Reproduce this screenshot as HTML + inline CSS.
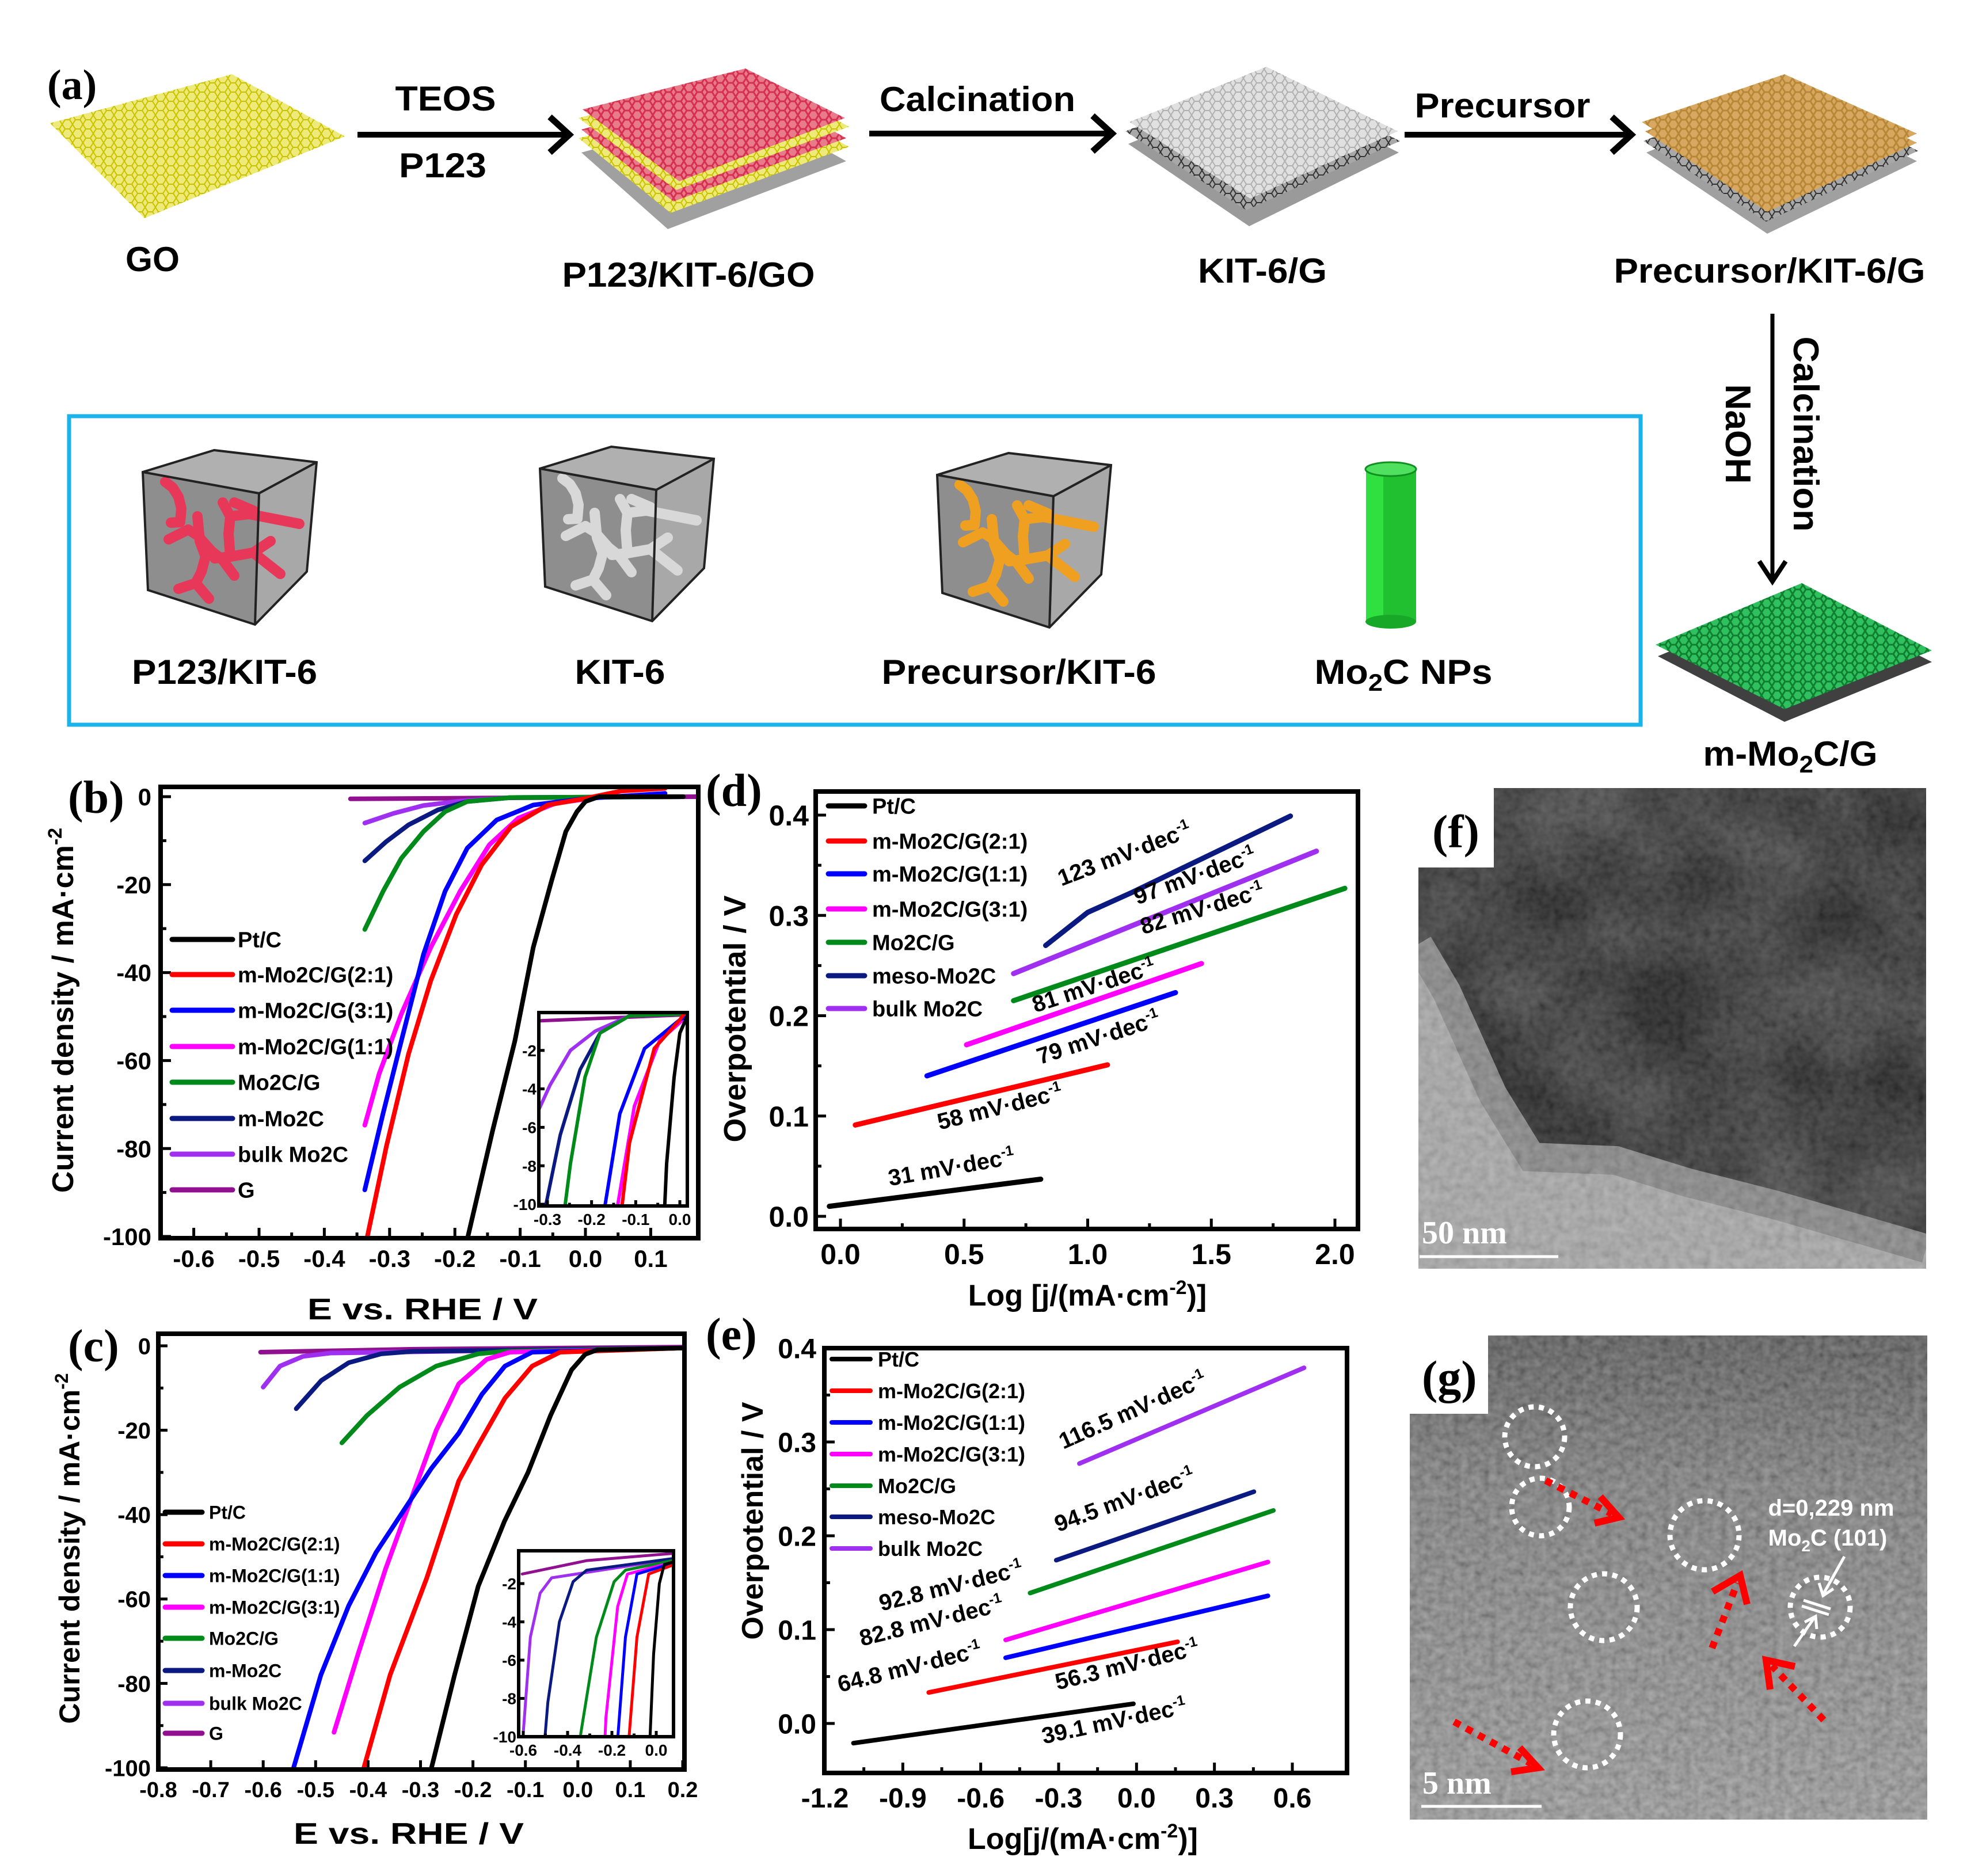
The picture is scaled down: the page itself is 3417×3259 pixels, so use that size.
<!DOCTYPE html>
<html><head><meta charset="utf-8">
<style>
html,body{margin:0;padding:0;background:#fff;width:3417px;height:3259px;overflow:hidden;}
svg{display:block;}
text{font-family:"Liberation Sans",Arial,sans-serif;font-weight:bold;}
.lbl{font-family:"Liberation Serif",serif;font-weight:bold;}
</style></head>
<body>
<svg id="fig" xmlns="http://www.w3.org/2000/svg" width="3417" height="3259" viewBox="0 0 3417 3259">
<defs>
<pattern id="hexY" width="18" height="16" patternUnits="userSpaceOnUse"><rect width="18" height="16" fill="#eeea7a"/><path d="M0 8 L5 0 L13 0 L18 8 L13 16 L5 16Z" fill="none" stroke="#c9c200" stroke-width="2"/></pattern>
<pattern id="hexP" width="18" height="16" patternUnits="userSpaceOnUse"><rect width="18" height="16" fill="#e87a8a"/><path d="M0 8 L5 0 L13 0 L18 8 L13 16 L5 16Z" fill="none" stroke="#d63050" stroke-width="3"/></pattern>
<pattern id="hexW" width="18" height="16" patternUnits="userSpaceOnUse"><rect width="18" height="16" fill="#e0e0e0"/><path d="M0 8 L5 0 L13 0 L18 8 L13 16 L5 16Z" fill="none" stroke="#b0b0b0" stroke-width="2"/></pattern>
<pattern id="hexO" width="18" height="16" patternUnits="userSpaceOnUse"><rect width="18" height="16" fill="#d8a860"/><path d="M0 8 L5 0 L13 0 L18 8 L13 16 L5 16Z" fill="none" stroke="#b88838" stroke-width="3"/></pattern>
<pattern id="hexG" width="18" height="16" patternUnits="userSpaceOnUse"><rect width="18" height="16" fill="#30c060"/><path d="M0 8 L5 0 L13 0 L18 8 L13 16 L5 16Z" fill="none" stroke="#108030" stroke-width="3"/></pattern>
<pattern id="hexK" width="18" height="16" patternUnits="userSpaceOnUse"><rect width="18" height="16" fill="#a8a8a8"/><path d="M0 8 L5 0 L13 0 L18 8 L13 16 L5 16Z" fill="none" stroke="#333" stroke-width="2"/></pattern>
<filter id="noise" x="0" y="0" width="100%" height="100%"><feTurbulence type="fractalNoise" baseFrequency="0.08" numOctaves="2" seed="3"/><feColorMatrix type="saturate" values="0"/><feComponentTransfer><feFuncA type="linear" slope="0" intercept="0.45"/></feComponentTransfer><feComposite in2="SourceGraphic" operator="in"/></filter>
<filter id="noiseF" x="0" y="0" width="100%" height="100%"><feTurbulence type="fractalNoise" baseFrequency="0.07" numOctaves="2" seed="5"/><feColorMatrix type="saturate" values="0"/><feComponentTransfer><feFuncA type="linear" slope="0" intercept="0.3"/></feComponentTransfer><feComposite in2="SourceGraphic" operator="in"/></filter>
<filter id="blob" x="0" y="0" width="100%" height="100%"><feTurbulence type="fractalNoise" baseFrequency="0.006" numOctaves="2" seed="7"/><feColorMatrix type="matrix" values="0 0 0 0 0  0 0 0 0 0  0 0 0 0 0  2 0 0 0 -0.5"/><feComposite in2="SourceGraphic" operator="in"/></filter>
<clipPath id="clipB"><rect x="279" y="1367" width="934" height="784"/></clipPath>
<clipPath id="clipBi"><rect x="936" y="1759" width="258" height="336"/></clipPath>
<clipPath id="clipC"><rect x="275" y="2317" width="914" height="757"/></clipPath>
<clipPath id="clipCi"><rect x="901" y="2694" width="269" height="323"/></clipPath>
<clipPath id="clipF"><path d="M2595 1369 H3346 V2204 H2464 V1507 H2595Z"/></clipPath>
<clipPath id="clipG"><path d="M2585 2320 H3348 V3161 H2449 V2456 H2585Z"/></clipPath>
</defs>

<!-- ===== Panel a ===== -->
<g>
<text class="lbl" x="82" y="172" font-size="74">(a)</text>
<polygon points="87,214 403,129 599,237 251,379" fill="url(#hexY)"/>
<text x="265" y="471" font-size="60" text-anchor="middle" textLength="94" lengthAdjust="spacingAndGlyphs">GO</text>
<g><line x1="621" y1="234" x2="985" y2="234" stroke="#000" stroke-width="10"/><polyline points="955,203 989,234 955,265" fill="none" stroke="#000" stroke-width="11"/></g>
<text x="774" y="192" font-size="60" text-anchor="middle" textLength="175" lengthAdjust="spacingAndGlyphs">TEOS</text>
<text x="769" y="308" font-size="60" text-anchor="middle" textLength="152" lengthAdjust="spacingAndGlyphs">P123</text>
<g>
<polygon points="1010,265 1300,185 1470,280 1160,398" fill="#a0a0a0"/>
<polygon points="1005,240 1300,160 1475,255 1165,370" fill="url(#hexY)"/>
<polygon points="1010,225 1300,145 1470,240 1170,350" fill="url(#hexP)"/>
<polygon points="1005,205 1300,125 1475,220 1175,330" fill="url(#hexY)"/>
<polygon points="1012,190 1295,119 1468,205 1180,315" fill="url(#hexP)"/>
</g>
<text x="1196" y="498" font-size="60" text-anchor="middle" textLength="439" lengthAdjust="spacingAndGlyphs">P123/KIT-6/GO</text>
<g><line x1="1510" y1="232" x2="1925" y2="232" stroke="#000" stroke-width="10"/><polyline points="1898,201 1932,232 1898,263" fill="none" stroke="#000" stroke-width="11"/></g>
<text x="1698" y="193" font-size="60" text-anchor="middle" textLength="340" lengthAdjust="spacingAndGlyphs">Calcination</text>
<g>
<polygon points="1960,250 2200,150 2430,265 2170,393" fill="#9a9a9a"/>
<polygon points="1955,228 2200,130 2432,245 2165,365" fill="url(#hexK)"/>
<polygon points="1962,212 2200,116 2428,228 2172,345" fill="url(#hexW)"/>
</g>
<text x="2193" y="491" font-size="60" text-anchor="middle" textLength="224" lengthAdjust="spacingAndGlyphs">KIT-6/G</text>
<g><line x1="2440" y1="234" x2="2830" y2="234" stroke="#000" stroke-width="10"/><polyline points="2800,203 2834,234 2800,265" fill="none" stroke="#000" stroke-width="11"/></g>
<text x="2610" y="204" font-size="60" text-anchor="middle" textLength="305" lengthAdjust="spacingAndGlyphs">Precursor</text>
<g>
<polygon points="2860,265 3100,165 3330,280 3070,406" fill="#a0a0a0"/>
<polygon points="2855,245 3100,148 3332,262 3068,385" fill="url(#hexK)"/>
<polygon points="2858,228 3100,138 3330,248 3070,368" fill="url(#hexO)"/>
<polygon points="2852,212 3100,129 3330,232 3072,350" fill="url(#hexO)"/>
</g>
<text x="3074" y="491" font-size="60" text-anchor="middle" textLength="541" lengthAdjust="spacingAndGlyphs">Precursor/KIT-6/G</text>
<g><line x1="3079" y1="545" x2="3079" y2="1005" stroke="#000" stroke-width="7"/><polyline points="3056,975 3079,1010 3102,975" fill="none" stroke="#000" stroke-width="8"/></g>
<text transform="translate(3116,754) rotate(90)" font-size="62" text-anchor="middle" textLength="339" lengthAdjust="spacingAndGlyphs">Calcination</text>
<text transform="translate(2998,754) rotate(90)" font-size="62" text-anchor="middle" textLength="173" lengthAdjust="spacingAndGlyphs">NaOH</text>
<g>
<polygon points="2880,1140 3130,1035 3356,1150 3100,1254" fill="#404040"/>
<polygon points="2876,1120 3130,1013 3356,1130 3100,1232" fill="url(#hexG)"/>
</g>
<text x="3110" y="1330" font-size="60" text-anchor="middle" textLength="303" lengthAdjust="spacingAndGlyphs">m-Mo<tspan font-size="42" dy="12">2</tspan><tspan dy="-12">C/G</tspan></text>
<rect x="120" y="723" width="2730" height="536" fill="none" stroke="#1ab4ea" stroke-width="7"/>
<g id="cubes"></g>
<g>
<rect x="2373" y="815" width="87" height="265" fill="#20c030"/>
<rect x="2373" y="815" width="30" height="265" fill="#30e040"/>
<ellipse cx="2416" cy="1080" rx="44" ry="12" fill="#18a828"/>
<ellipse cx="2416" cy="815" rx="44" ry="12" fill="#50e060" stroke="#109020" stroke-width="3"/>
</g>
<text x="390" y="1188" font-size="60" text-anchor="middle" textLength="322" lengthAdjust="spacingAndGlyphs">P123/KIT-6</text>
<text x="1077" y="1188" font-size="60" text-anchor="middle" textLength="157" lengthAdjust="spacingAndGlyphs">KIT-6</text>
<text x="1770" y="1188" font-size="60" text-anchor="middle" textLength="477" lengthAdjust="spacingAndGlyphs">Precursor/KIT-6</text>
<text x="2438" y="1188" font-size="60" text-anchor="middle" textLength="309" lengthAdjust="spacingAndGlyphs">Mo<tspan font-size="42" dy="12">2</tspan><tspan dy="-12">C NPs</tspan></text>
</g>

<!-- ===== Panel f ===== -->
<g>
<g clip-path="url(#clipF)">
<rect x="2464" y="1369" width="882" height="835" fill="#303030"/>
<rect x="2464" y="1369" width="882" height="835" fill="#0a0a0a" filter="url(#blob)"/>
<path d="M2464 1640 L2513 1723 L2593 1901 L2660 2010 L2807 2016 L2930 2054 L3083 2093 L3236 2137 L3346 2169 V2204 H2464Z" fill="#a0a0a0"/>
<path d="M2464 1640 L2513 1723 L2593 1901 L2660 2010 L2807 2016 L2930 2054 L3083 2093 L3236 2137 L3346 2169" fill="none" stroke="#7a7a7a" stroke-width="50"/>
<rect x="2464" y="1369" width="882" height="835" fill="#fff" filter="url(#noiseF)"/>
</g>
<text class="lbl" x="2488" y="1472" font-size="82">(f)</text>
<text class="lbl" x="2470" y="2160" font-size="56" fill="#fff">50 nm</text>
<line x1="2466" y1="2183" x2="2707" y2="2183" stroke="#fff" stroke-width="5"/>
</g>

<!-- ===== Panel g ===== -->
<g>
<defs><linearGradient id="gGrad" x1="0" y1="0" x2="0" y2="1"><stop offset="0" stop-color="#2a2a2a"/><stop offset="0.3" stop-color="#5e5e5e"/><stop offset="1" stop-color="#858585"/></linearGradient></defs>
<g clip-path="url(#clipG)">
<rect x="2449" y="2320" width="899" height="841" fill="url(#gGrad)"/>
<rect x="2449" y="2320" width="899" height="841" fill="#fff" filter="url(#noise)"/>
</g>
<text class="lbl" x="2470" y="2420" font-size="82">(g)</text>
<g fill="none" stroke="#fff" stroke-width="9" stroke-dasharray="9 9">
<circle cx="2666" cy="2496" r="52"/>
<circle cx="2676" cy="2618" r="50"/>
<circle cx="2961" cy="2667" r="60"/>
<circle cx="2786" cy="2792" r="58"/>
<circle cx="3162" cy="2792" r="52"/>
<circle cx="2757" cy="3013" r="58"/>
</g>
<g stroke="#ff0000" stroke-width="12" fill="none">
<line x1="2685" y1="2572" x2="2800" y2="2630" stroke-dasharray="12 12"/>
<polyline points="2780,2600 2812,2636 2770,2646"/>
<line x1="2974" y1="2863" x2="3018" y2="2750" stroke-dasharray="12 12"/>
<polyline points="2975,2765 3023,2737 3035,2787"/>
<line x1="3168" y1="2988" x2="3078" y2="2894" stroke-dasharray="12 12"/>
<polyline points="3075,2935 3068,2884 3118,2895"/>
<line x1="2526" y1="2991" x2="2660" y2="3064" stroke-dasharray="12 12"/>
<polyline points="2640,3036 2672,3071 2625,3078"/>
</g>
<g stroke="#fff" stroke-width="5" fill="none">
<line x1="3204" y1="2704" x2="3167" y2="2770"/><polyline points="3160,2750 3167,2772 3185,2760"/>
<line x1="3117" y1="2860" x2="3152" y2="2810"/><polyline points="3135,2818 3154,2808 3156,2830"/>
<line x1="3133" y1="2780" x2="3180" y2="2795"/><line x1="3130" y1="2790" x2="3177" y2="2805"/>
</g>
<text x="3181" y="2633" font-size="40" fill="#fff" text-anchor="middle" font-weight="normal">d=0,229 nm</text>
<text x="3175" y="2685" font-size="40" fill="#fff" text-anchor="middle" font-weight="normal">Mo<tspan font-size="28" dy="10">2</tspan><tspan dy="-10">C (101)</tspan></text>
<text class="lbl" x="2471" y="3116" font-size="56" fill="#fff">5 nm</text>
<line x1="2469" y1="3138" x2="2678" y2="3138" stroke="#fff" stroke-width="5"/>
</g>

<g id="plots"></g>
</svg>
<script>
// ---------- Panel b data (E vs RHE / V, j / mA cm-2) ----------
const bSeries=["Pt/C","m-Mo2C/G(2:1)","m-Mo2C/G(3:1)","m-Mo2C/G(1:1)","Mo2C/G","m-Mo2C","bulk Mo2C","G"];
const bPtE=[-0.18,-0.142,-0.108,-0.08,-0.052,-0.03,-0.013,0,0.021,0.15];
const bPtJ=[-100,-75.8,-55.5,-34.3,-19.2,-7.9,-3.4,-1.1,0,0];
const bRedE=[-0.334,-0.305,-0.271,-0.237,-0.198,-0.159,-0.114,-0.058,0,0.055,0.122];
const bRedJ=[-100,-79.6,-58.5,-41.9,-26.8,-15.5,-6.8,-1.9,-0.4,1.3,1.9];
const bBlueE=[-0.338,-0.31,-0.282,-0.248,-0.215,-0.181,-0.136,-0.08,0,0.122];
const bBlueJ=[-89.4,-72,-55.5,-35.8,-21.5,-11.7,-5.3,-1.9,-0.4,0.75];
const bMagE=[-0.338,-0.316,-0.282,-0.237,-0.192,-0.147,-0.103,-0.046,0.027,0.15];
const bMagJ=[-74.7,-63,-49.4,-34.3,-21.5,-10.9,-4.9,-1.5,0,0];
const bGrnE=[-0.338,-0.31,-0.282,-0.248,-0.215,-0.181,-0.114,0.15];
const bGrnJ=[-30.2,-21.5,-14,-7.9,-3.4,-1.1,-0.2,0];
const bNavE=[-0.338,-0.305,-0.271,-0.226,-0.181,-0.114,0.15];
const bNavJ=[-14.6,-10.2,-6.4,-3,-1.1,-0.2,0];
const bPurE=[-0.338,-0.294,-0.248,-0.192,-0.114,0.15];
const bPurJ=[-6,-3.8,-2,-1,-0.2,0];
const bGE=[-0.36,0.17];
const bGJ=[-0.5,0];
const bXTicks=[-0.6,-0.5,-0.4,-0.3,-0.2,-0.1,0.0,0.1];
const bYTicks=[0,-20,-40,-60,-80,-100];
const bInsetXTicks=[-0.3,-0.2,-0.1,0.0];
const bInsetYTicks=[-2,-4,-6,-8,-10];

// ---------- Panel c data ----------
const cSeries=["Pt/C","m-Mo2C/G(2:1)","m-Mo2C/G(1:1)","m-Mo2C/G(3:1)","Mo2C/G","m-Mo2C","bulk Mo2C","G"];
const cPtE=[-0.279,-0.235,-0.19,-0.14,-0.095,-0.052,-0.012,0.014,0.036,0.2];
const cPtJ=[-100,-78,-57,-41.6,-30,-16.5,-5.7,-2,-1,-0.5];
const cRedE=[-0.408,-0.358,-0.288,-0.227,-0.192,-0.139,-0.087,-0.034,0.2];
const cRedJ=[-100,-78,-55,-32,-24,-12.4,-4.8,-1.5,-0.5];
const cBlueE=[-0.542,-0.49,-0.437,-0.385,-0.332,-0.279,-0.227,-0.183,-0.139,-0.087,0.2];
const cBlueJ=[-100,-78,-61.6,-49,-39,-29,-20.7,-11.5,-4.8,-1.5,-0.5];
const cMagE=[-0.465,-0.419,-0.367,-0.314,-0.27,-0.227,-0.174,-0.13,0.2];
const cMagJ=[-91.6,-73,-53,-35,-20,-9,-3.2,-1.5,-0.5];
const cGrnE=[-0.45,-0.402,-0.34,-0.27,-0.19,-0.139,0.2];
const cGrnJ=[-23,-16.5,-9.8,-4.8,-1.9,-1.3,-0.5];
const cNavE=[-0.537,-0.489,-0.437,-0.375,-0.314,0.2];
const cNavJ=[-14.9,-8.2,-4,-1.9,-1.3,-0.5];
const cPurE=[-0.6,-0.568,-0.524,-0.472,0.2];
const cPurJ=[-9.8,-4.8,-2.5,-1.7,-0.5];
const cGE=[-0.605,-0.314,0.2];
const cGJ=[-1.5,-0.8,-0.3];
const cXTicks=[-0.8,-0.7,-0.6,-0.5,-0.4,-0.3,-0.2,-0.1,0.0,0.1,0.2];
const cYTicks=[0,-20,-40,-60,-80,-100];
const cInsetXTicks=[-0.6,-0.4,-0.2,0.0];
const cInsetYTicks=[-2,-4,-6,-8,-10];

// ---------- Panel d data (log j, overpotential V) ----------
const dSeries=["Pt/C","m-Mo2C/G(2:1)","m-Mo2C/G(1:1)","m-Mo2C/G(3:1)","Mo2C/G","meso-Mo2C","bulk Mo2C"];
const dPtX=[-0.045,0.81]; const dPtY=[0.010,0.037];
const dRedX=[0.06,1.08]; const dRedY=[0.091,0.151];
const dBlueX=[0.35,1.355]; const dBlueY=[0.14,0.223];
const dMagX=[0.51,1.46]; const dMagY=[0.171,0.252];
const dGrnX=[0.70,2.04]; const dGrnY=[0.215,0.327];
const dNavX=[0.83,1.0,1.18,1.82]; const dNavY=[0.270,0.303,0.323,0.399];
const dPurX=[0.70,1.925]; const dPurY=[0.242,0.364];
const dSlopes=["31","58","79","81","82","97","123"];
const dXTicks=[0.0,0.5,1.0,1.5,2.0];
const dYTicks=[0.0,0.1,0.2,0.3,0.4];

// ---------- Panel e data ----------
const eSeries=["Pt/C","m-Mo2C/G(2:1)","m-Mo2C/G(1:1)","m-Mo2C/G(3:1)","Mo2C/G","meso-Mo2C","bulk Mo2C"];
const ePtX=[-1.09,-0.012]; const ePtY=[-0.021,0.021];
const eRedX=[-0.80,0.158]; const eRedY=[0.033,0.087];
const eBlueX=[-0.504,0.506]; const eBlueY=[0.070,0.136];
const eMagX=[-0.504,0.506]; const eMagY=[0.089,0.172];
const eGrnX=[-0.41,0.527]; const eGrnY=[0.139,0.227];
const eNavX=[-0.309,0.452]; const eNavY=[0.174,0.247];
const ePurX=[-0.22,0.645]; const ePurY=[0.277,0.379];
const eSlopes=["39.1","56.3","64.8","82.8","92.8","94.5","116.5"];
const eXTicks=[-1.2,-0.9,-0.6,-0.3,0.0,0.3,0.6];
const eYTicks=[0.0,0.1,0.2,0.3,0.4];

const NS="http://www.w3.org/2000/svg";
const root=document.getElementById('plots');
function lin(d0,d1,r0,r1){return v=>r0+(v-d0)/(d1-d0)*(r1-r0);}
function el(tag,attrs,parent){const e=document.createElementNS(NS,tag);for(const k in attrs)e.setAttribute(k,attrs[k]);(parent||root).appendChild(e);return e;}
function fmt(v,d){let s=v.toFixed(d);if(s==="-0"||s==="-0.0")s=s.slice(1);return s;}
function curve(g,xs,ys,sx,sy,color,w,name){
  let d="";for(let i=0;i<xs.length;i++){d+=(i?"L":"M")+sx(xs[i]).toFixed(1)+" "+sy(ys[i]).toFixed(1);}
  const p=el('path',{d:d,fill:'none',stroke:color,'stroke-width':w,'stroke-linejoin':'round','stroke-linecap':'round'},g);
  
  
  return p;
}
function txt(g,x,y,s,fs,anchor,name,extra){
  const t=el('text',Object.assign({x:x,y:y,'font-size':fs,'text-anchor':anchor||'start'},extra||{}),g);
  t.textContent=s;
  
  
  return t;
}
function grp(name){const g=el('g',{});return g;}

function axesFrame(g,x0,y0,x1,y1,w){
  const r=el('rect',{x:x0,y:y0,width:x1-x0,height:y1-y0,fill:'none',stroke:'#000','stroke-width':w},g);
  
  
}
function xTicks(g,ticks,sx,yb,len,labelY,fs,dec,minor){
  ticks.forEach((v,i)=>{
    const x=sx(v);
    const t=el('line',{x1:x,y1:yb,x2:x,y2:yb-len,stroke:'#000','stroke-width':5},g);
    
    
    txt(g,x,labelY,fmt(v,dec),fs,'middle','x-tick-label');
    if(minor&&i<ticks.length-1){const xm=sx((v+ticks[i+1])/2);
      const m=el('line',{x1:xm,y1:yb,x2:xm,y2:yb-len*0.55,stroke:'#000','stroke-width':5},g);
      
      }
  });
}
function yTicks(g,ticks,sy,xl,len,labelX,fs,dec,minor){
  ticks.forEach((v,i)=>{
    const y=sy(v);
    const t=el('line',{x1:xl,y1:y,x2:xl+len,y2:y,stroke:'#000','stroke-width':5},g);
    
    
    txt(g,labelX,y+fs*0.36,fmt(v,dec),fs,'end','y-tick-label');
    if(minor&&i<ticks.length-1){const ym=sy((v+ticks[i+1])/2);
      const m=el('line',{x1:xl,y1:ym,x2:xl+len*0.55,y2:ym,stroke:'#000','stroke-width':5},g);
      
      }
  });
}
function legend(g,names,colors,ys,x0,x1,tx,fs,w){
  names.forEach((n,i)=>{
    const l=el('line',{x1:x0,y1:ys[i],x2:x1,y2:ys[i],stroke:colors[i],'stroke-width':w,'stroke-linecap':'round'},g);
    
    
    txt(g,tx,ys[i]+fs*0.36,n,fs,'start','legend-entry');
  });
}
function slopeLabel(g,x,y,val,fs,rot,name){
  const t=el('text',{x:x,y:y,'font-size':fs,'text-anchor':'middle',transform:`rotate(${rot} ${x} ${y})`},g);
  
  
  t.appendChild(document.createTextNode(val+" mV\u00b7dec"));
  const s=document.createElementNS(NS,'tspan');s.setAttribute('dy',-fs*0.4);s.setAttribute('font-size',fs*0.62);s.textContent="-1";t.appendChild(s);
}

const lvColors=["#000000","#ff0000","#0000ff","#ff00ff","#008a1a","#0a1a80","#a030f0","#901090"];
const tafColors=["#000000","#ff0000","#0000ff","#ff00ff","#008a1a","#0a1a80","#a030f0"];

// ===== Panel b =====
(function(){
  const g=grp('panel-b-lsv');
  const sx=lin(0,0.1,1017,1130.4), sy=lin(0,-100,1384,2148);
  const cg=el('g',{'clip-path':'url(#clipB)'},g);
  const bx=[bPtE,bRedE,bBlueE,bMagE,bGrnE,bNavE,bPurE,bGE], by=[bPtJ,bRedJ,bBlueJ,bMagJ,bGrnJ,bNavJ,bPurJ,bGJ];
  for(let i=7;i>=0;i--)curve(cg,bx[i],by[i],sx,sy,lvColors[i],8,'curve-b-'+i);
  axesFrame(g,279,1367,1213,2151,8);
  xTicks(g,bXTicks,sx,2151,18,2201,42,1,true);
  yTicks(g,bYTicks,sy,279,18,263,42,0,true);
  legend(g,bSeries,lvColors,[1632,1693,1755,1818,1880,1943,2005,2067],299,404,413,38,9);
  txt(g,734,2292,"E vs. RHE / V",52,'middle','x-axis-title-b',{textLength:400,lengthAdjust:'spacingAndGlyphs'});
  const yt=txt(g,0,0,"Current density / mA\u00b7cm",52,'middle','y-axis-title-b',{transform:'translate(127,1755) rotate(-90)'});
  const sp=document.createElementNS(NS,'tspan');sp.setAttribute('dy',-20);sp.setAttribute('font-size',34);sp.textContent="-2";yt.appendChild(sp);
  txt(g,118,1412,"(b)",80,'start','panel-b-label',{class:'lbl'});
  const ig=grp('panel-b-inset');g.appendChild(ig);
  const isx=lin(-0.3,0,951,1181), isy=lin(0,-10,1758,2092);
  const icg=el('g',{'clip-path':'url(#clipBi)'},ig);
  for(let i=7;i>=0;i--)curve(icg,bx[i],by[i],isx,isy,lvColors[i],6,'inset-curve-b-'+i);
  const r=el('rect',{x:936,y:1759,width:258,height:336,fill:'none',stroke:'#000','stroke-width':6},ig);
  
  
  xTicks(ig,bInsetXTicks,isx,2095,10,2128,28,1,true);
  yTicks(ig,bInsetYTicks,isy,936,10,932,28,0,false);
})();

// ===== Panel c =====
(function(){
  const g=grp('panel-c-lsv');
  const sx=lin(-0.8,0.2,275,1186), sy=lin(0,-100,2338,3071);
  const cg=el('g',{'clip-path':'url(#clipC)'},g);
  const cx=[cPtE,cRedE,cBlueE,cMagE,cGrnE,cNavE,cPurE,cGE], cy=[cPtJ,cRedJ,cBlueJ,cMagJ,cGrnJ,cNavJ,cPurJ,cGJ];
  const cc=["#000000","#ff0000","#0000ff","#ff00ff","#008a1a","#0a1a80","#a030f0","#901090"];
  for(let i=7;i>=0;i--)curve(cg,cx[i],cy[i],sx,sy,cc[i],8,'curve-c-'+i);
  axesFrame(g,275,2317,1189,3074,8);
  xTicks(g,cXTicks,sx,3074,16,3122,38,1,false);
  yTicks(g,cYTicks,sy,275,16,262,40,0,true);
  legend(g,cSeries,cc,[2627,2682,2737,2792,2846,2902,2959,3011],287,351,363,32,9);
  txt(g,710,3203,"E vs. RHE / V",52,'middle','x-axis-title-c',{textLength:400,lengthAdjust:'spacingAndGlyphs'});
  const yt=txt(g,0,0,"Current density / mA\u00b7cm",50,'middle','y-axis-title-c',{transform:'translate(138,2690) rotate(-90)'});
  const sp=document.createElementNS(NS,'tspan');sp.setAttribute('dy',-20);sp.setAttribute('font-size',32);sp.textContent="-2";yt.appendChild(sp);
  txt(g,118,2365,"(c)",80,'start','panel-c-label',{class:'lbl'});
  const ig=grp('panel-c-inset');g.appendChild(ig);
  const isx=lin(-0.6,0,909,1140), isy=lin(-2,-10,2751,3017);
  const icg=el('g',{'clip-path':'url(#clipCi)'},ig);
  for(let i=7;i>=0;i--)curve(icg,cx[i],cy[i],isx,isy,cc[i],5,'inset-curve-c-'+i);
  const r=el('rect',{x:901,y:2694,width:269,height:323,fill:'none',stroke:'#000','stroke-width':6},ig);
  
  
  xTicks(ig,cInsetXTicks,isx,3017,10,3050,28,1,true);
  yTicks(ig,cInsetYTicks,isy,901,10,897,28,0,false);
})();

// ===== Panel d =====
(function(){
  const g=grp('panel-d-tafel');
  const sx=lin(0,2,1460,2319), sy=lin(0,0.4,2113,1416);
  const xs=[dPtX,dRedX,dBlueX,dMagX,dGrnX,dNavX,dPurX], ys=[dPtY,dRedY,dBlueY,dMagY,dGrnY,dNavY,dPurY];
  for(let i=0;i<7;i++)curve(g,xs[i],ys[i],sx,sy,tafColors[i],9,'tafel-line-d-'+i);
  axesFrame(g,1417,1375,2359,2135,8);
  xTicks(g,dXTicks,sx,2135,18,2196,50,1,true);
  yTicks(g,dYTicks,sy,1417,18,1405,50,1,true);
  legend(g,dSeries,tafColors,[1400,1461,1518,1579,1637,1695,1752],1439,1502,1515,38,9);
  const pos=[[1655,2041,-10],[1740,1936,-14],[1912,1815,-18],[1904,1725,-18],[2092,1591,-17],[2080,1534,-20],[1958,1496,-21]];
  dSlopes.forEach((s,i)=>slopeLabel(g,pos[i][0],pos[i][1],s,40,pos[i][2],'slope-label-d'));
  const xt=txt(g,1889,2268,"Log [j/(mA\u00b7cm",52,'middle','x-axis-title-d');
  let sp=document.createElementNS(NS,'tspan');sp.setAttribute('dy',-20);sp.setAttribute('font-size',34);sp.textContent="-2";xt.appendChild(sp);
  sp=document.createElementNS(NS,'tspan');sp.setAttribute('dy',20);sp.textContent=")]";xt.appendChild(sp);
  txt(g,0,0,"Overpotential / V",54,'middle','y-axis-title-d',{transform:'translate(1295,1770) rotate(-90)'});
  txt(g,1226,1400,"(d)",80,'start','panel-d-label',{class:'lbl'});
})();

// ===== Panel e =====
(function(){
  const g=grp('panel-e-tafel');
  const sx=lin(-1.2,0.6,1433,2245), sy=lin(0,0.4,2994,2342);
  const xs=[ePtX,eRedX,eBlueX,eMagX,eGrnX,eNavX,ePurX], ys=[ePtY,eRedY,eBlueY,eMagY,eGrnY,eNavY,ePurY];
  for(let i=0;i<7;i++)curve(g,xs[i],ys[i],sx,sy,tafColors[i],8,'tafel-line-e-'+i);
  axesFrame(g,1432,2342,2340,3080,8);
  xTicks(g,eXTicks,sx,3080,18,3140,48,1,true);
  yTicks(g,eYTicks,sy,1432,18,1418,48,1,true);
  legend(g,eSeries,tafColors,[2361,2416,2471,2526,2581,2635,2690],1445,1512,1525,36,8);
  const pos=[[1938,3003,-12],[1961,2905,-14],[1583,2909,-14],[1621,2829,-14],[1655,2768,-14],[1958,2618,-20],[1973,2462,-24]];
  eSlopes.forEach((s,i)=>slopeLabel(g,pos[i][0],pos[i][1],s,40,pos[i][2],'slope-label-e'));
  const xt=txt(g,1881,3212,"Log[j/(mA\u00b7cm",52,'middle','x-axis-title-e');
  let sp=document.createElementNS(NS,'tspan');sp.setAttribute('dy',-20);sp.setAttribute('font-size',34);sp.textContent="-2";xt.appendChild(sp);
  sp=document.createElementNS(NS,'tspan');sp.setAttribute('dy',20);sp.textContent=")]";xt.appendChild(sp);
  txt(g,0,0,"Overpotential / V",52,'middle','y-axis-title-e',{transform:'translate(1325,2642) rotate(-90)'});
  txt(g,1226,2345,"(e)",80,'start','panel-e-label',{class:'lbl'});
})();

// ===== Cubes in template box =====
(function(){
  const host=document.getElementById('cubes');
  const cubeDefs=[[0,0,"#e8385a","p123-kit6-cube"],[690,-6,"#d8d8d8","kit6-cube"],[1380,5,"#f0a020","precursor-kit6-cube"]];
  const tubes=[[[287,837],[300,847],[310,863],[315,883],[313,907],[297,908]],
    [[293,937],[327,920],[343,930],[367,957],[387,973],[407,1000]],
    [[343,897],[347,940],[357,967],[350,993],[340,1013],[310,1023]],
    [[340,1013],[363,1040]],
    [[387,873],[400,897],[397,927],[400,967],[373,970]],
    [[400,897],[433,893],[520,910]],[[407,873],[440,887]],
    [[400,967],[440,960],[470,940]],[[440,960],[487,997]]];
  cubeDefs.forEach(c=>{
    const g=el('g',{transform:`translate(${c[0]},${c[1]})`},host);
    
    
    el('polygon',{points:"248,820 450,857 443,1085 257,1025",fill:"#8e8e8e"},g);
    el('polygon',{points:"450,857 550,803 533,993 443,1085",fill:"#a8a8a8"},g);
    el('polygon',{points:"248,820 372,782 550,803 450,857",fill:"#b0b0b0"},g);
    tubes.forEach(t=>el('polyline',{points:t.map(p=>p.join(',')).join(' '),fill:'none',stroke:c[2],'stroke-width':18,'stroke-linecap':'round','stroke-linejoin':'round'},g));
    el('polygon',{points:"248,820 372,782 550,803 533,993 443,1085 257,1025",fill:'none',stroke:'#222','stroke-width':4},g);
    el('polyline',{points:"248,820 450,857 550,803 450,857 443,1085",fill:'none',stroke:'#222','stroke-width':4},g);
  });
})();
</script>
</body></html>
